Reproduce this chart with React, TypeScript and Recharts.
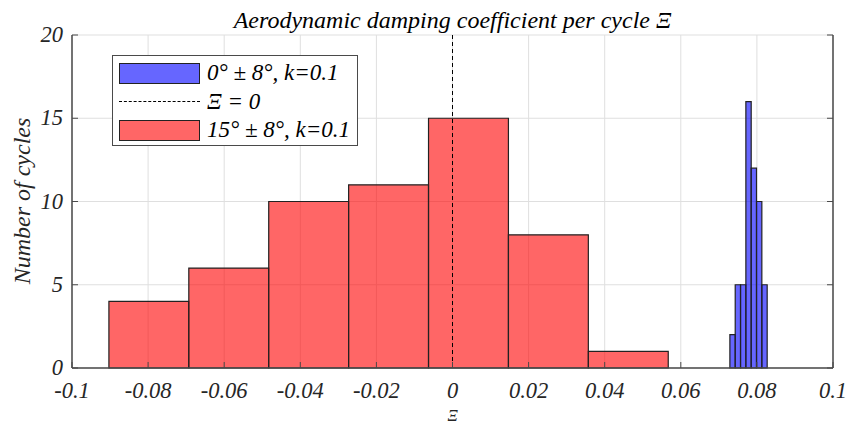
import React from 'react';
import {
    ComposedChart,
    XAxis,
    YAxis,
    CartesianGrid,
    ReferenceArea,
    ReferenceLine,
    Scatter,
} from 'recharts';

// histogram bins (left edge, right edge, count)
const RED_EDGES = [-0.0903, -0.0693, -0.0483, -0.0273, -0.0063, 0.0147, 0.0357, 0.0567];
const RED_COUNTS = [4, 6, 10, 11, 15, 8, 1];

const BLUE_EDGES = [0.0729, 0.0743, 0.0757, 0.0771, 0.0785, 0.0799, 0.0813, 0.0827];
const BLUE_COUNTS = [2, 5, 5, 16, 12, 10, 5];

const X_TICKS = [-0.1, -0.08, -0.06, -0.04, -0.02, 0, 0.02, 0.04, 0.06, 0.08, 0.1];
const Y_TICKS = [0, 5, 10, 15, 20];

const LEGEND_LABELS = ['0° ± 8°, k=0.1', 'Ξ = 0', '15° ± 8°, k=0.1'];

const W = 849;
const H = 425;
const PLOT_LEFT = 72;
const PLOT_RIGHT = 833;
const PLOT_TOP = 35;
const PLOT_BOTTOM = 368;

const FONT = 'Liberation Serif, DejaVu Serif, serif';
const AXIS_COLOR = '#4a4a4a';
const RED = '#ff0000';
const BLUE = '#0000ff';
const EDGE = '#222222';

const textStyle: React.CSSProperties = { fontFamily: FONT, fontStyle: 'italic' };

// bin centres, so the chart has data for its scales
const binRows = [
    ...RED_COUNTS.map((c, i) => ({ x: (RED_EDGES[i] + RED_EDGES[i + 1]) / 2, count: c })),
    ...BLUE_COUNTS.map((c, i) => ({ x: (BLUE_EDGES[i] + BLUE_EDGES[i + 1]) / 2, count: c })),
];

const BottomTick = ({ x, payload }: any) => (
    <g>
        <line x1={x} x2={x} y1={PLOT_BOTTOM} y2={PLOT_BOTTOM - 6} stroke={AXIS_COLOR} />
        <text x={x} y={PLOT_BOTTOM + 30} textAnchor="middle" fontSize={22.5} fill="#262626" style={textStyle}>
            {String(payload.value)}
        </text>
    </g>
);

const TopTick = ({ x }: any) => (
    <line x1={x} x2={x} y1={PLOT_TOP} y2={PLOT_TOP + 6} stroke={AXIS_COLOR} />
);

const LeftTick = ({ y, payload }: any) => (
    <g>
        <line x1={PLOT_LEFT} x2={PLOT_LEFT + 6} y1={y} y2={y} stroke={AXIS_COLOR} />
        <text x={PLOT_LEFT - 9} y={y + 7} textAnchor="end" fontSize={22.5} fill="#262626" style={textStyle}>
            {String(payload.value)}
        </text>
    </g>
);

const RightTick = ({ y }: any) => (
    <line x1={PLOT_RIGHT} x2={PLOT_RIGHT - 6} y1={y} y2={y} stroke={AXIS_COLOR} />
);

const HistLegend = () => (
    <div
        style={{
            position: 'absolute',
            left: 112,
            top: 55,
            width: 244,
            height: 89,
            border: `1.5px solid ${AXIS_COLOR}`,
            background: '#fff',
            fontFamily: FONT,
            fontStyle: 'italic',
            fontSize: 23,
            color: '#000',
        }}
    >
        {LEGEND_LABELS.map((label, i) => (
            <div
                key={label}
                style={{ position: 'absolute', left: 6, top: 6 + i * 28.5, height: 22, display: 'flex', alignItems: 'center' }}
            >
                {i === 1 ? (
                    <div style={{ width: 81, height: 0, borderTop: '1.5px dashed #000' }} />
                ) : (
                    <div
                        style={{
                            width: 79,
                            height: 19,
                            background: i === 0 ? 'rgba(0,0,255,0.6)' : 'rgba(255,0,0,0.6)',
                            border: `1px solid ${EDGE}`,
                        }}
                    />
                )}
                <span style={{ marginLeft: 7, whiteSpace: 'nowrap', lineHeight: '22px' }}>{label}</span>
            </div>
        ))}
    </div>
);

const App = () => {
    return (
        <div style={{ position: 'absolute', left: 0, top: 0, width: W, height: H, background: '#fff' }}>
            <ComposedChart width={W} height={H} data={binRows} margin={{ top: PLOT_TOP, right: 0, bottom: 0, left: 0 }}>
                <CartesianGrid stroke="#dfdfdf" />
                <XAxis
                    type="number"
                    dataKey="x"
                    domain={[-0.1, 0.1]}
                    ticks={X_TICKS}
                    interval={0}
                    allowDataOverflow
                    height={H - PLOT_BOTTOM}
                    axisLine={{ stroke: AXIS_COLOR, strokeWidth: 1.5 }}
                    tickLine={false}
                    tick={<BottomTick />}
                />
                <XAxis
                    xAxisId="top"
                    orientation="top"
                    type="number"
                    dataKey="x"
                    domain={[-0.1, 0.1]}
                    ticks={X_TICKS}
                    interval={0}
                    allowDataOverflow
                    height={0}
                    axisLine={{ stroke: AXIS_COLOR, strokeWidth: 1.5 }}
                    tickLine={false}
                    tick={<TopTick />}
                />
                <YAxis
                    type="number"
                    dataKey="count"
                    domain={[0, 20]}
                    ticks={Y_TICKS}
                    interval={0}
                    allowDataOverflow
                    width={PLOT_LEFT}
                    axisLine={{ stroke: AXIS_COLOR, strokeWidth: 1.5 }}
                    tickLine={false}
                    tick={<LeftTick />}
                />
                <YAxis
                    yAxisId="right"
                    orientation="right"
                    type="number"
                    dataKey="count"
                    domain={[0, 20]}
                    ticks={Y_TICKS}
                    interval={0}
                    allowDataOverflow
                    width={W - PLOT_RIGHT}
                    axisLine={{ stroke: AXIS_COLOR, strokeWidth: 1.5 }}
                    tickLine={false}
                    tick={<RightTick />}
                />
                <Scatter dataKey="count" shape={() => <g />} isAnimationActive={false} legendType="none" />
                <Scatter xAxisId="top" yAxisId="right" dataKey="count" shape={() => <g />} isAnimationActive={false} legendType="none" />
                <ReferenceLine x={0} stroke="#000" strokeDasharray="4 3" strokeWidth={1} />
                {RED_COUNTS.map((c, i) => (
                    <ReferenceArea
                        key={`r${i}`}
                        x1={RED_EDGES[i]}
                        x2={RED_EDGES[i + 1]}
                        y1={0}
                        y2={c}
                        fill={RED}
                        fillOpacity={0.6}
                        stroke={EDGE}
                        strokeWidth={1.2}
                        strokeOpacity={1}
                    />
                ))}
                {BLUE_COUNTS.map((c, i) => (
                    <ReferenceArea
                        key={`b${i}`}
                        x1={BLUE_EDGES[i]}
                        x2={BLUE_EDGES[i + 1]}
                        y1={0}
                        y2={c}
                        fill={BLUE}
                        fillOpacity={0.6}
                        stroke={EDGE}
                        strokeWidth={1.2}
                        strokeOpacity={1}
                    />
                ))}
                <text x={(PLOT_LEFT + PLOT_RIGHT) / 2} y={28} textAnchor="middle" fontSize={24} fill="#000" style={textStyle}>
                    Aerodynamic damping coefficient per cycle Ξ
                </text>
                <text
                    x={30}
                    y={201}
                    transform="rotate(-90 30 201)"
                    textAnchor="middle"
                    fontSize={24}
                    fill="#262626"
                    style={textStyle}
                >
                    Number of cycles
                </text>
                <text x={(PLOT_LEFT + PLOT_RIGHT) / 2} y={421} textAnchor="middle" fontSize={16} fill="#262626" style={textStyle}>
                    Ξ
                </text>
            </ComposedChart>
            <HistLegend />
        </div>
    );
};

export default App;
